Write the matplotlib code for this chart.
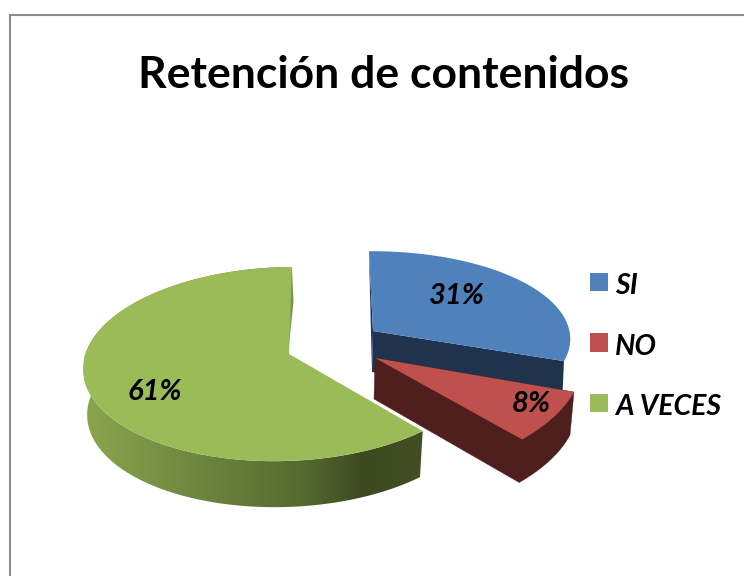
import numpy as np
import matplotlib
matplotlib.use("Agg")
import matplotlib.pyplot as plt
from matplotlib.patches import Polygon, Patch
from matplotlib.colors import LinearSegmentedColormap

title = "Retención de contenidos"
categories = ["SI", "NO", "A VECES"]
values = [31, 8, 61]
colors = ["#4F81BD", "#C0504D", "#9BBB59"]
side_colors = ["#1F334F", "#4F1F1E", "#5A6E33"]

# Layout of every exploded slice, in pixels: apex and projective pie coefficients
apex = [(373, 331), (375, 358), (289, 354)]
coef_a = [200, 243, 200]
coef_b = [-4.5, 3.3, 3.3]
coef_e = [-88, -112, -96]
coef_g = [0.022, 0.18, 0.022]
depth = [41, 43, 46]

plt.rcParams["font.family"] = ["Lato", "Open Sans", "DejaVu Sans"]
fig = plt.figure(figsize=(7.44, 5.76), dpi=100)
ax = fig.add_axes([0, 0, 1, 1])
ax.set_xlim(0, 744)
ax.set_ylim(576, 0)
ax.axis("off")


def project(i, t_deg):
    t = np.radians(np.asarray(t_deg, float))
    u, v = np.sin(t), np.cos(t)
    w = 1 + coef_g[i] * u + 0.103 * v
    x = (coef_a[i] * u + coef_b[i] * v) / w
    y = (-3 * u + coef_e[i] * v) / w
    return apex[i][0] + x, apex[i][1] + y


def lower(i, x, y):
    return apex[i][0] + (np.asarray(x) - apex[i][0]) * 0.98, np.asarray(y) + depth[i]


# Slice angles come from the values, clockwise from twelve o'clock
ang = np.cumsum([0] + values) * 3.6
arcs = [np.linspace(ang[k], ang[k + 1], 160) for k in range(3)]

# frame
ax.plot([10, 10], [576, 15], color="#8C8C8C", lw=1.5, solid_capstyle="projecting")
ax.plot([10, 744], [15, 15], color="#8C8C8C", lw=1.5, solid_capstyle="projecting")

# green slice
g = 2
gx, gy = project(g, arcs[g])
lx, ly = lower(g, gx, gy)
side = np.r_[np.c_[gx, gy], np.c_[lx, ly][::-1]]
patch = Polygon(side, closed=True, fc="none", ec="none")
ax.add_patch(patch)
cmap = LinearSegmentedColormap.from_list(
    "g", [(0, "#8BA54E"), (0.33, "#6E8740"), (0.65, "#55692F"),
          (0.82, "#3D4A20"), (1, "#434E22")])
img = ax.imshow(np.linspace(0, 1, 256)[None, :], cmap=cmap, aspect="auto",
                extent=(84, 424, 576, 0), zorder=1)
img.set_clip_path(patch)
ax.set_xlim(0, 744)
ax.set_ylim(576, 0)
tx, ty = project(g, [arcs[g][-1]])
ax.add_patch(Polygon([(tx[0], ty[0]), (tx[0] + 1.5, ty[0] + 35), (apex[g][0] - 1, apex[g][1])],
                     closed=True, fc="#7A9648", ec="none", zorder=1.5))
ax.add_patch(Polygon(np.r_[[apex[g]], np.c_[gx, gy]], closed=True,
                     fc=colors[g], ec="none", zorder=2))

# blue slice
b = 0
bx, by = project(b, arcs[b])
ex, ey = lower(b, [bx[-1]], [by[-1]])
ax.add_patch(Polygon([apex[b], (bx[-1], by[-1]), (ex[0] + 2, ey[0]),
                      (apex[b][0] - 1, apex[b][1] + depth[b])],
                     closed=True, fc=side_colors[b], ec="none", zorder=3))
ax.add_patch(Polygon([(bx[0], by[0]), (apex[b][0] - 1, apex[b][1] + depth[b]), apex[b]],
                     closed=True, fc=side_colors[b], ec="none", zorder=3))
ax.add_patch(Polygon(np.r_[[apex[b]], np.c_[bx, by]], closed=True,
                     fc=colors[b], ec="none", zorder=4))

# red slice
r = 1
rx, ry = project(r, arcs[r])
qx, qy = lower(r, rx, ry)
ax.add_patch(Polygon(np.r_[[apex[r]], [(rx[0], ry[0])], np.c_[qx, qy],
                           [(apex[r][0] - 1, apex[r][1] + depth[r] - 2)]],
                     closed=True, fc=side_colors[r], ec=side_colors[r], lw=0.3, zorder=5))
ax.add_patch(Polygon(np.r_[[apex[r]], np.c_[rx, ry]], closed=True,
                     fc=colors[r], ec="none", zorder=6))

# text
ax.text(384, 88, title, fontsize=32, fontweight="bold", ha="center",
        va="baseline", color="black", zorder=10)
label_pos = [(457, 296), (531, 404), (155, 392)]
for val, (px, py) in zip(values, label_pos):
    ax.text(px, py, f"{val}%", fontsize=21, fontweight="bold", style="italic",
            ha="center", va="center", color="black", zorder=10)

handles = [Patch(fc=c, ec="none", label=n) for c, n in zip(colors, categories)]
leg = ax.legend(handles=handles, loc="upper left", bbox_to_anchor=(590, 271),
                bbox_transform=ax.transData, frameon=False, borderpad=0, borderaxespad=0,
                handlelength=0.63, handleheight=0.63, handletextpad=0.25, labelspacing=1.215,
                prop={"size": 20.5, "weight": "bold", "style": "italic"})
for t in leg.get_texts():
    t.set_position((0, -2))

fig.savefig("out.png", dpi=100)
